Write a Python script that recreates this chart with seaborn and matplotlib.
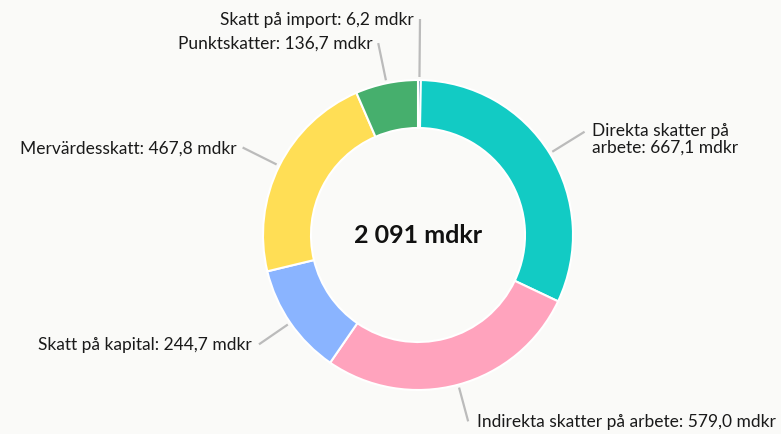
import numpy as np
import matplotlib
matplotlib.use("Agg")
import matplotlib.pyplot as plt
import seaborn as sns

# Data (clockwise from 12 o'clock)
categories = ["Skatt på import", "Direkta skatter på\narbete", "Indirekta skatter på arbete",
              "Skatt på kapital", "Mervärdesskatt", "Punktskatter"]
values = [6.2, 667.1, 579.0, 244.7, 467.8, 136.7]
value_labels = ["6,2", "667,1", "579,0", "244,7", "467,8", "136,7"]
colors = ["#2A6496", "#12CBC4", "#FFA3BD", "#8AB4FF", "#FFDE55", "#46AF6D"]
total_label = "2 091 mdkr"

W, H = 781, 435
BG = "#FAFAF8"

sns.set_theme(style="white")
plt.rcParams["font.family"] = ["Lato", "DejaVu Sans"]

fig = plt.figure(figsize=(W / 100, H / 100), dpi=100, facecolor=BG)
ax = fig.add_axes([0, 0, 1, 1])
ax.set_facecolor(BG)

cx, cy = 418, H - 236
R = 155
width = 48

wedges, _ = ax.pie(values, colors=colors, startangle=90, counterclock=False,
                   radius=R, center=(cx, cy),
                   wedgeprops=dict(width=width, edgecolor="white", linewidth=1.5))

ax.set_xlim(0, W)
ax.set_ylim(0, H)
ax.set_aspect("equal")
ax.axis("off")

# leader lines and labels
line_out = [61, 41, 38, 38, 41, 41]
offsets = [6, 7, 9, 7, 6, 6]
FS = 12.5
for i, w in enumerate(wedges):
    ang = np.deg2rad((w.theta1 + w.theta2) / 2)
    r0 = R + 3
    r1 = R + line_out[i]
    x0, y0 = cx + r0 * np.cos(ang), cy + r0 * np.sin(ang)
    x1, y1 = cx + r1 * np.cos(ang), cy + r1 * np.sin(ang)
    ax.plot([x0, x1], [y0, y1], color="#BBBBBB", lw=1.6, solid_capstyle="butt")
    right = np.cos(ang) >= 0.01
    txt = f"{categories[i]}: {value_labels[i]} mdkr"
    ha = "left" if right else "right"
    tx = x1 + offsets[i] if right else x1 - offsets[i]
    if "\n" in categories[i]:
        ax.text(tx, y1 + 10, txt, ha=ha, va="top", fontsize=FS, color="#1A1A1A",
                linespacing=1.05)
    else:
        ax.text(tx, y1, txt, ha=ha, va="center", fontsize=FS, color="#1A1A1A")

ax.text(cx, cy, total_label, ha="center", va="center", fontsize=18,
        fontweight="bold", color="#111111")

fig.savefig("out.png", dpi=100, facecolor=BG)
